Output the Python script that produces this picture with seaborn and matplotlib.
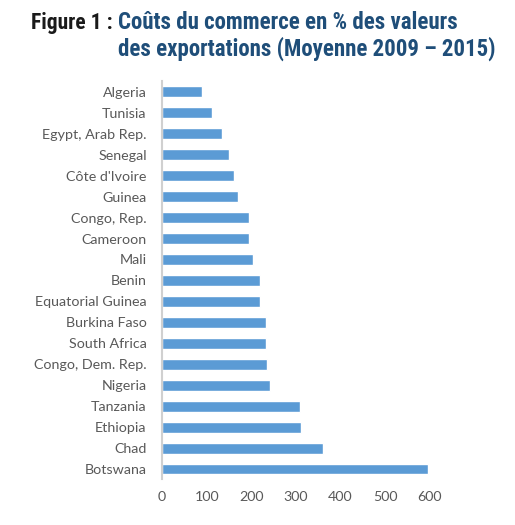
import matplotlib
matplotlib.use("Agg")
import matplotlib.pyplot as plt
import seaborn as sns
import pandas as pd

countries = ["Algeria", "Tunisia", "Egypt, Arab Rep.", "Senegal", "Côte d'Ivoire",
             "Guinea", "Congo, Rep.", "Cameroon", "Mali", "Benin",
             "Equatorial Guinea", "Burkina Faso", "South Africa", "Congo, Dem. Rep.",
             "Nigeria", "Tanzania", "Ethiopia", "Chad", "Botswana"]
costs = [90, 113, 134, 151, 162, 170, 194, 194, 203, 220,
         220, 233, 233, 236, 241, 309, 311, 360, 595]
xticks = [0, 100, 200, 300, 400, 500, 600]

df = pd.DataFrame({"country": countries, "cost": costs})

sns.set_style("white")
plt.rcParams["font.family"] = ["Lato", "DejaVu Sans"]

fig = plt.figure(figsize=(5.15, 5.25), dpi=100)
ax = fig.add_axes([0.3146, 0.0867, 0.52, 0.7583])
sns.barplot(data=df, x="cost", y="country", color="#5b9bd5", saturation=1,
            width=0.52, ax=ax)

ax.set_xlim(0, 600)
ax.set_xticks(xticks)
ax.set_xlabel("")
ax.set_ylabel("")
for s in ["top", "right", "bottom"]:
    ax.spines[s].set_visible(False)
ax.spines["left"].set_color("#d0d0d0")
ax.spines["left"].set_linewidth(1.5)
ax.tick_params(axis="both", length=0, labelsize=10.3, labelcolor="#595959")
ax.tick_params(axis="y", pad=11)
ax.tick_params(axis="x", pad=8)

tfont = ["Roboto Condensed", "Roboto", "DejaVu Sans"]
tsize = 16.5
fig.text(0.2194, 0.957, "Figure 1 :", fontsize=15.5, fontweight="bold",
         color="#1a1a1a", family=tfont, va="center", ha="right")
fig.text(0.229, 0.957, "Coûts du commerce en % des valeurs", fontsize=tsize,
         fontweight="bold", color="#1f4e79", family=tfont, va="center")
fig.text(0.229, 0.907, "des exportations (Moyenne 2009 – 2015)", fontsize=tsize,
         fontweight="bold", color="#1f4e79", family=tfont, va="center")

fig.savefig("out.png", dpi=100)
